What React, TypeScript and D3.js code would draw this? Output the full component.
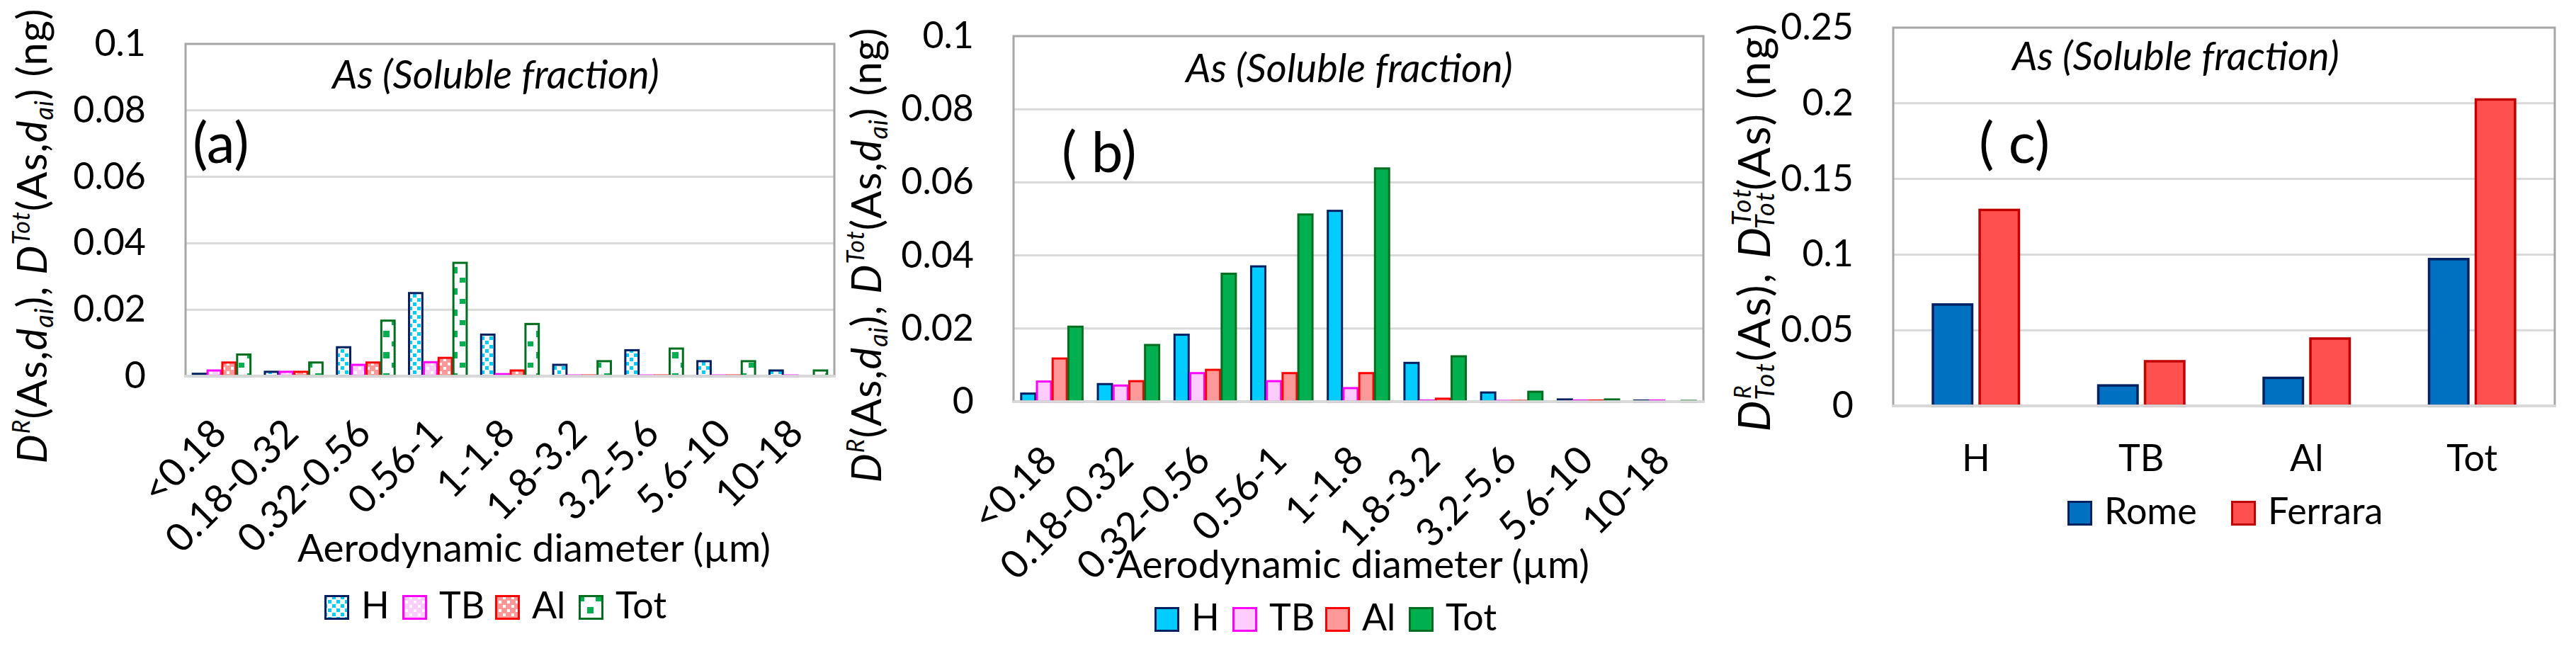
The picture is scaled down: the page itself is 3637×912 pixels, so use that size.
import React from 'react';
import * as d3 from 'd3';

// ---------- DATA ----------
const sizeBins = ['<0.18', '0.18-0.32', '0.32-0.56', '0.56-1', '1-1.8', '1.8-3.2', '3.2-5.6', '5.6-10', '10-18'];
const regions = ['H', 'TB', 'Al', 'Tot'];

// panel (a)
const a_H = [0.0007, 0.0013, 0.0087, 0.025, 0.0125, 0.0034, 0.0078, 0.0045, 0.0017];
const a_TB = [0.0017, 0.0013, 0.0034, 0.0042, 0.0006, 0.0002, 0.0002, 0.0002, 0.0002];
const a_Al = [0.0041, 0.0013, 0.0041, 0.0055, 0.0017, 0.0002, 0.0002, 0.0002, 0];
const a_Tot = [0.0065, 0.0041, 0.0167, 0.0341, 0.0157, 0.0045, 0.0083, 0.0045, 0.0017];

// panel (b)
const b_H = [0.0022, 0.0048, 0.0183, 0.037, 0.0522, 0.0106, 0.0025, 0.0006, 0.0003];
const b_TB = [0.0055, 0.0044, 0.0078, 0.0056, 0.0037, 0.0003, 0.0002, 0.0003, 0.0003];
const b_Al = [0.0118, 0.0056, 0.0087, 0.0078, 0.0078, 0.0008, 0.0002, 0.0003, 0];
const b_Tot = [0.0205, 0.0155, 0.035, 0.0512, 0.0638, 0.0124, 0.0027, 0.0006, 0.0002];

// panel (c)
const totCategories = ['H', 'TB', 'Al', 'Tot'];
const cities = ['Rome', 'Ferrara'];
const c_Rome = [0.067, 0.0135, 0.0185, 0.097];
const c_Ferrara = [0.1295, 0.0295, 0.0445, 0.2025];

const ticksAB = [0, 0.02, 0.04, 0.06, 0.08, 0.1];
const ticksC = [0, 0.05, 0.1, 0.15, 0.2, 0.25];

const chartTitle = 'As (Soluble fraction)';
const xTitle = 'Aerodynamic diameter (µm)';

// ---------- STYLE ----------
const FONT = "Lato, 'Open Sans', sans-serif";
const W = 3637;
const H = 912;
const FS_TICK = 52;
const FS_XLAB = 55;
const FS_TITLE = 56;
const FS_PANEL = 80;
const FS_XTITLE = 55;
const FS_LEG = 52;
const BORDER = '#A6A6A6';
const GRID = '#D9D9D9';

const strokesABC: Record<string, string> = { H: '#002060', TB: '#FF00FF', Al: '#FF0000', Tot: '#006E1E' };
const fillsA: Record<string, string> = { H: 'url(#patH)', TB: 'url(#patTB)', Al: 'url(#patAl)', Tot: 'url(#patTot)' };
const fillsB: Record<string, string> = { H: '#00CCFF', TB: '#FFCCFF', Al: '#FF9999', Tot: '#00B050' };
const cityFill: Record<string, string> = { Rome: '#0070C0', Ferrara: '#FF5050' };
const cityStroke: Record<string, string> = { Rome: '#002060', Ferrara: '#C00000' };

const fmt = d3.format('~g');

type Box = { left: number; right: number; top: number; bottom: number };

function Frame({ box, y, ticks }: { box: Box; y: d3.ScaleLinear<number, number>; ticks: number[] }) {
  return (
    <g>
      {ticks.filter((t) => t > 0 && t < ticks[ticks.length - 1]).map((t) => (
        <line key={t} x1={box.left} x2={box.right} y1={y(t)} y2={y(t)} stroke={GRID} strokeWidth={3} />
      ))}
      {ticks.map((t) => (
        <text key={'l' + t} x={box.left - 56} y={y(t) + 17} textAnchor="end" fontSize={FS_TICK} fontFamily={FONT} fill="#000">
          {fmt(t)}
        </text>
      ))}
    </g>
  );
}

function Border({ box }: { box: Box }) {
  return (
    <g>
      <rect x={box.left} y={box.top} width={box.right - box.left} height={box.bottom - box.top} fill="none" stroke={BORDER} strokeWidth={3} />
      <line x1={box.left - 1.5} x2={box.right + 1.5} y1={box.bottom} y2={box.bottom} stroke={GRID} strokeWidth={3.5} />
    </g>
  );
}

function SizePanel({ box, data, fills, labelDx, labelDy }: { box: Box; data: number[][]; fills: Record<string, string>; labelDx: number; labelDy: number }) {
  const x0 = d3.scaleBand<string>().domain(sizeBins).range([box.left, box.right]).paddingInner(0.2).paddingOuter(0.1);
  const x1 = d3.scaleBand<string>().domain(regions).range([0, x0.bandwidth()]).paddingInner(0.1);
  const y = d3.scaleLinear().domain([0, 0.1]).range([box.bottom, box.top]);
  return (
    <g>
      <Frame box={box} y={y} ticks={ticksAB} />
      {sizeBins.map((c, i) => (
        <g key={c}>
          {regions.map((r, j) => {
            const v = data[j][i];
            if (v <= 0) return null;
            const xx = (x0(c) as number) + (x1(r) as number);
            return (
              <rect key={r} x={xx} y={y(v)} width={x1.bandwidth()} height={box.bottom - y(v)} fill={fills[r]} stroke={strokesABC[r]} strokeWidth={3} />
            );
          })}
        </g>
      ))}
      <Border box={box} />
      {sizeBins.map((c) => {
        const cx = (x0(c) as number) + x0.bandwidth() / 2;
        return (
          <text key={'t' + c} transform={`translate(${cx + labelDx},${box.bottom + labelDy}) rotate(-45)`} textAnchor="end" fontSize={FS_XLAB} fontFamily={FONT}>
            {c}
          </text>
        );
      })}
    </g>
  );
}

function YLabelAB({ x, y }: { x: number; y: number }) {
  const F = 58;
  const sup = 34;
  const sub = 36;
  return (
    <text transform={`translate(${x},${y}) rotate(-90)`} textAnchor="middle" fontSize={F} fontFamily={FONT} letterSpacing={1} style={{ whiteSpace: 'pre' }}>
      <tspan fontStyle="italic">D</tspan>
      <tspan fontStyle="italic" fontSize={sup} dy={-24}>R</tspan>
      <tspan dy={24}>(As,</tspan>
      <tspan fontStyle="italic">d</tspan>
      <tspan fontStyle="italic" fontSize={sub} dy={9}>ai</tspan>
      <tspan dy={-9}>), </tspan>
      <tspan fontStyle="italic">D</tspan>
      <tspan fontStyle="italic" fontSize={sup} dy={-24}>Tot</tspan>
      <tspan dy={24}>(As,</tspan>
      <tspan fontStyle="italic">d</tspan>
      <tspan fontStyle="italic" fontSize={sub} dy={9}>ai</tspan>
      <tspan dy={-9}>) (ng)</tspan>
    </text>
  );
}

function YLabelC({ x, y }: { x: number; y: number }) {
  const F = 62;
  const sup = 32;
  const sub = 36;
  return (
    <text transform={`translate(${x},${y}) rotate(-90)`} textAnchor="middle" fontSize={F} fontFamily={FONT} letterSpacing={2.5} style={{ whiteSpace: 'pre' }}>
      <tspan fontStyle="italic">D</tspan>
      <tspan fontStyle="italic" fontSize={sup} dy={-27}>R</tspan>
      <tspan fontStyle="italic" fontSize={sub} dx={-23} dy={33}>Tot</tspan>
      <tspan dy={-6}>(As), </tspan>
      <tspan fontStyle="italic">D</tspan>
      <tspan fontStyle="italic" fontSize={sub} dy={-27}>Tot</tspan>
      <tspan fontStyle="italic" fontSize={sub} dx={-56} dy={33}>Tot</tspan>
      <tspan dy={-6}>(As) (ng)</tspan>
    </text>
  );
}

function LegendItem({ x, y, fill, stroke, label }: { x: number; y: number; fill: string; stroke: string; label: string }) {
  return (
    <g>
      <rect x={x + 1.5} y={y + 1.5} width={32} height={32} fill={fill} stroke={stroke} strokeWidth={3} />
      <text x={x + 52} y={y + 33} fontSize={FS_LEG} fontFamily={FONT}>
        {label}
      </text>
    </g>
  );
}

export default function App() {
  const boxA: Box = { left: 262, right: 1178, top: 62, bottom: 531 };
  const boxB: Box = { left: 1431, right: 2405, top: 51, bottom: 567 };
  const boxC: Box = { left: 2673, right: 3607, top: 39, bottom: 573 };

  const legendOffsets = [0, 110, 241, 359];

  // panel c scales
  const cx0 = d3.scaleBand<string>().domain(totCategories).range([boxC.left, boxC.right]).paddingInner(0.48).paddingOuter(0.24);
  const cx1 = d3.scaleBand<string>().domain(cities).range([0, cx0.bandwidth()]).paddingInner(0.16);
  const cy = d3.scaleLinear().domain([0, 0.25]).range([boxC.bottom, boxC.top]);
  const cData: Record<string, number[]> = { Rome: c_Rome, Ferrara: c_Ferrara };

  return (
    <div style={{ position: 'absolute', left: 0, top: 0 }}>
      <svg width={W} height={H} viewBox={`0 0 ${W} ${H}`} style={{ display: 'block', background: '#fff' }}>
        <defs>
          <pattern id="patH" width={12} height={12} patternUnits="userSpaceOnUse">
            <rect width={12} height={12} fill="#fff" />
            <rect x={1} y={1} width={5} height={5} fill="#00CCFF" />
            <rect x={7} y={7} width={5} height={5} fill="#00CCFF" />
          </pattern>
          <pattern id="patTB" width={12} height={12} patternUnits="userSpaceOnUse">
            <rect width={12} height={12} fill="#FFCCFF" />
            <rect x={2} y={2} width={4} height={4} fill="#fff" />
            <rect x={8} y={8} width={4} height={4} fill="#fff" />
          </pattern>
          <pattern id="patAl" width={12} height={12} patternUnits="userSpaceOnUse">
            <rect width={12} height={12} fill="#FF9999" />
            <rect x={2} y={2} width={4} height={4} fill="#fff" />
            <rect x={8} y={8} width={4} height={4} fill="#fff" />
          </pattern>
          <pattern id="patTot" width={24} height={30} patternUnits="userSpaceOnUse">
            <rect width={24} height={30} fill="#fff" />
            <rect x={1} y={2} width={8} height={7} fill="#00B050" />
            <rect x={13} y={17} width={9} height={9} fill="#00B050" />
          </pattern>
        </defs>
        <rect width={W} height={H} fill="#fff" />

        {/* Panel (a) */}
        <SizePanel box={boxA} data={[a_H, a_TB, a_Al, a_Tot]} fills={fillsA} labelDx={10} labelDy={84} />
        <text x={700} y={125} textAnchor="middle" fontSize={FS_TITLE} fontStyle="italic" fontFamily={FONT}>{chartTitle}</text>
        <text x={272} y={230} fontSize={FS_PANEL} fontFamily={FONT}>(a)</text>
        <text x={754} y={793} textAnchor="middle" fontSize={FS_XTITLE} fontFamily={FONT}>{xTitle}</text>
        <YLabelAB x={66} y={333} />
        {regions.map((r, i) => (
          <LegendItem key={r} x={458 + legendOffsets[i]} y={840} fill={fillsA[r]} stroke={strokesABC[r]} label={r} />
        ))}

        {/* Panel (b) */}
        <SizePanel box={boxB} data={[b_H, b_TB, b_Al, b_Tot]} fills={fillsB} labelDx={10} labelDy={86} />
        <text x={1905} y={116} textAnchor="middle" fontSize={FS_TITLE} fontStyle="italic" fontFamily={FONT}>{chartTitle}</text>
        <text x={1499} y={243} fontSize={FS_PANEL} fontFamily={FONT} style={{ whiteSpace: 'pre' }}>( b)</text>
        <text x={1910} y={816} textAnchor="middle" fontSize={FS_XTITLE} fontFamily={FONT}>{xTitle}</text>
        <YLabelAB x={1244} y={360} />
        {regions.map((r, i) => (
          <LegendItem key={r} x={1630 + legendOffsets[i]} y={857} fill={fillsB[r]} stroke={strokesABC[r]} label={r} />
        ))}

        {/* Panel (c) */}
        <g>
          <Frame box={boxC} y={cy} ticks={ticksC} />
          {totCategories.map((c, i) => (
            <g key={c}>
              {cities.map((city) => {
                const v = cData[city][i];
                return (
                  <rect key={city} x={(cx0(c) as number) + (cx1(city) as number)} y={cy(v)} width={cx1.bandwidth()} height={boxC.bottom - cy(v)} fill={cityFill[city]} stroke={cityStroke[city]} strokeWidth={3.5} />
                );
              })}
              <text x={(cx0(c) as number) + cx0.bandwidth() / 2} y={665} textAnchor="middle" fontSize={FS_LEG} fontFamily={FONT}>{c}</text>
            </g>
          ))}
          <Border box={boxC} />
        </g>
        <text x={3072} y={99} textAnchor="middle" fontSize={FS_TITLE} fontStyle="italic" fontFamily={FONT}>{chartTitle}</text>
        <text x={2794} y={230} fontSize={FS_PANEL} fontFamily={FONT} style={{ whiteSpace: 'pre' }}>( c)</text>
        <YLabelC x={2499} y={320} />
        {cities.map((city, i) => (
          <LegendItem key={city} x={2919 + i * 231} y={707} fill={cityFill[city]} stroke={cityStroke[city]} label={city} />
        ))}
      </svg>
    </div>
  );
}
